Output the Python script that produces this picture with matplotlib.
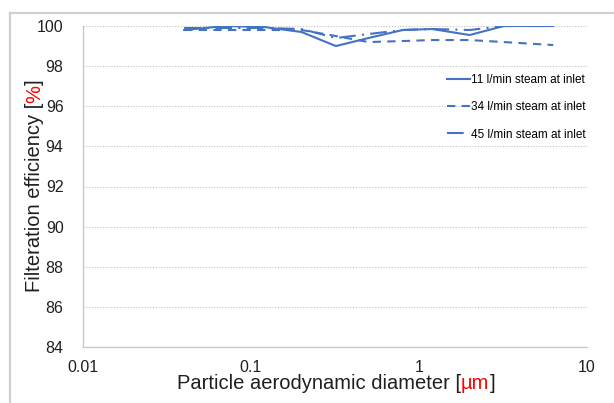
import matplotlib
matplotlib.use("Agg")
import matplotlib.pyplot as plt
from matplotlib.lines import Line2D

plt.rcParams['font.family'] = ['Liberation Sans', 'DejaVu Sans']

# Data
diam = [0.04, 0.07, 0.12, 0.2, 0.32, 0.5, 0.8, 1.2, 2.0, 3.2, 6.3]
eff_11 = [99.8, 100.0, 99.95, 99.7, 99.0, 99.4, 99.8, 99.85, 99.55, 100.0, 100.0]
eff_34 = [99.8, 99.8, 99.8, 99.8, 99.5, 99.2, 99.25, 99.3, 99.3, 99.2, 99.05]
eff_45 = [99.9, 99.9, 99.9, 99.85, 99.4, 99.6, 99.8, 99.85, 99.8, 100.0, 100.0]
labels = ["11 l/min steam at inlet", "34 l/min steam at inlet", "45 l/min steam at inlet"]
yticks = [84, 86, 88, 90, 92, 94, 96, 98, 100]
xticks = [0.01, 0.1, 1, 10]
xticklabels = ["0.01", "0.1", "1", "10"]

W, H = 614, 403
fig = plt.figure(figsize=(W / 100, H / 100), dpi=100)
fig.patch.set_facecolor('white')

# outer gray frame (top and left edges only visible)
fig.lines.append(Line2D([10 / W, 1.05], [1 - 13 / H, 1 - 13 / H], transform=fig.transFigure,
                        color='#d0d0d0', lw=1.6))
fig.lines.append(Line2D([10 / W, 10 / W], [-0.05, 1 - 13 / H], transform=fig.transFigure,
                        color='#d0d0d0', lw=1.6))

ax = fig.add_axes([83 / W, 1 - 347 / H, (587 - 83) / W, (347 - 26) / H])
blue = '#4472C4'
ax.plot(diam, eff_11, color=blue, lw=1.5, ls='-', label=labels[0])
ax.plot(diam, eff_34, color=blue, lw=1.5, ls=(0, (4, 3)), label=labels[1])
ax.plot(diam, eff_45, color=blue, lw=1.5, ls=(0, (8, 3, 1, 3)), label=labels[2])

ax.set_xscale('log')
ax.set_xlim(0.01, 10)
ax.set_ylim(84, 100)
ax.set_yticks(yticks)
ax.set_xticks(xticks)
ax.set_xticklabels(xticklabels)
ax.minorticks_off()
ax.tick_params(length=0, labelsize=11.5, colors='#202020')
ax.tick_params(axis='y', pad=14)
ax.tick_params(axis='x', pad=9)
for s in ['top', 'right']:
    ax.spines[s].set_visible(False)
for s in ['left', 'bottom']:
    ax.spines[s].set_color('#c8c8c8')
    ax.spines[s].set_linewidth(1.0)
ax.grid(axis='y', color='#c0c0c0', ls=(0, (1, 1.5)), lw=0.8)
ax.set_axisbelow(True)

leg = ax.legend(loc='upper right', bbox_to_anchor=(1.012, 0.873), frameon=False, fontsize=8.5,
                handlelength=1.9, labelspacing=1.3, handletextpad=0.15, borderaxespad=0.2)

fig.canvas.draw()
renderer = fig.canvas.get_renderer()

# x label with red unit
parts_x = [("Particle aerodynamic diameter [", 'black'), ("µm", 'red'), ("]", 'black')]
fs = 14.5
widths = []
for txt, c in parts_x:
    t = fig.text(0, 0, txt, fontsize=fs)
    widths.append(t.get_window_extent(renderer).width)
    t.remove()
total = sum(widths)
x0 = 336 - total / 2
yb = H - 389
for (txt, c), w in zip(parts_x, widths):
    fig.text(x0 / W, yb / H, txt, fontsize=fs, color=c if c != 'black' else '#202020',
             ha='left', va='baseline')
    x0 += w

# y label with red unit
parts_y = [("Filteration efficiency [", 'black'), ("%", 'red'), ("]", 'black')]
widths = []
for txt, c in parts_y:
    t = fig.text(0, 0, txt, fontsize=fs)
    widths.append(t.get_window_extent(renderer).width)
    t.remove()
total = sum(widths)
y0 = (H - 186) - total / 2
xb = 40
for (txt, c), w in zip(parts_y, widths):
    fig.text(xb / W, y0 / H, txt, fontsize=fs, color=c if c != 'black' else '#202020',
             rotation=90, rotation_mode='anchor', ha='left', va='baseline')
    y0 += w

fig.savefig('out.png', dpi=100)
